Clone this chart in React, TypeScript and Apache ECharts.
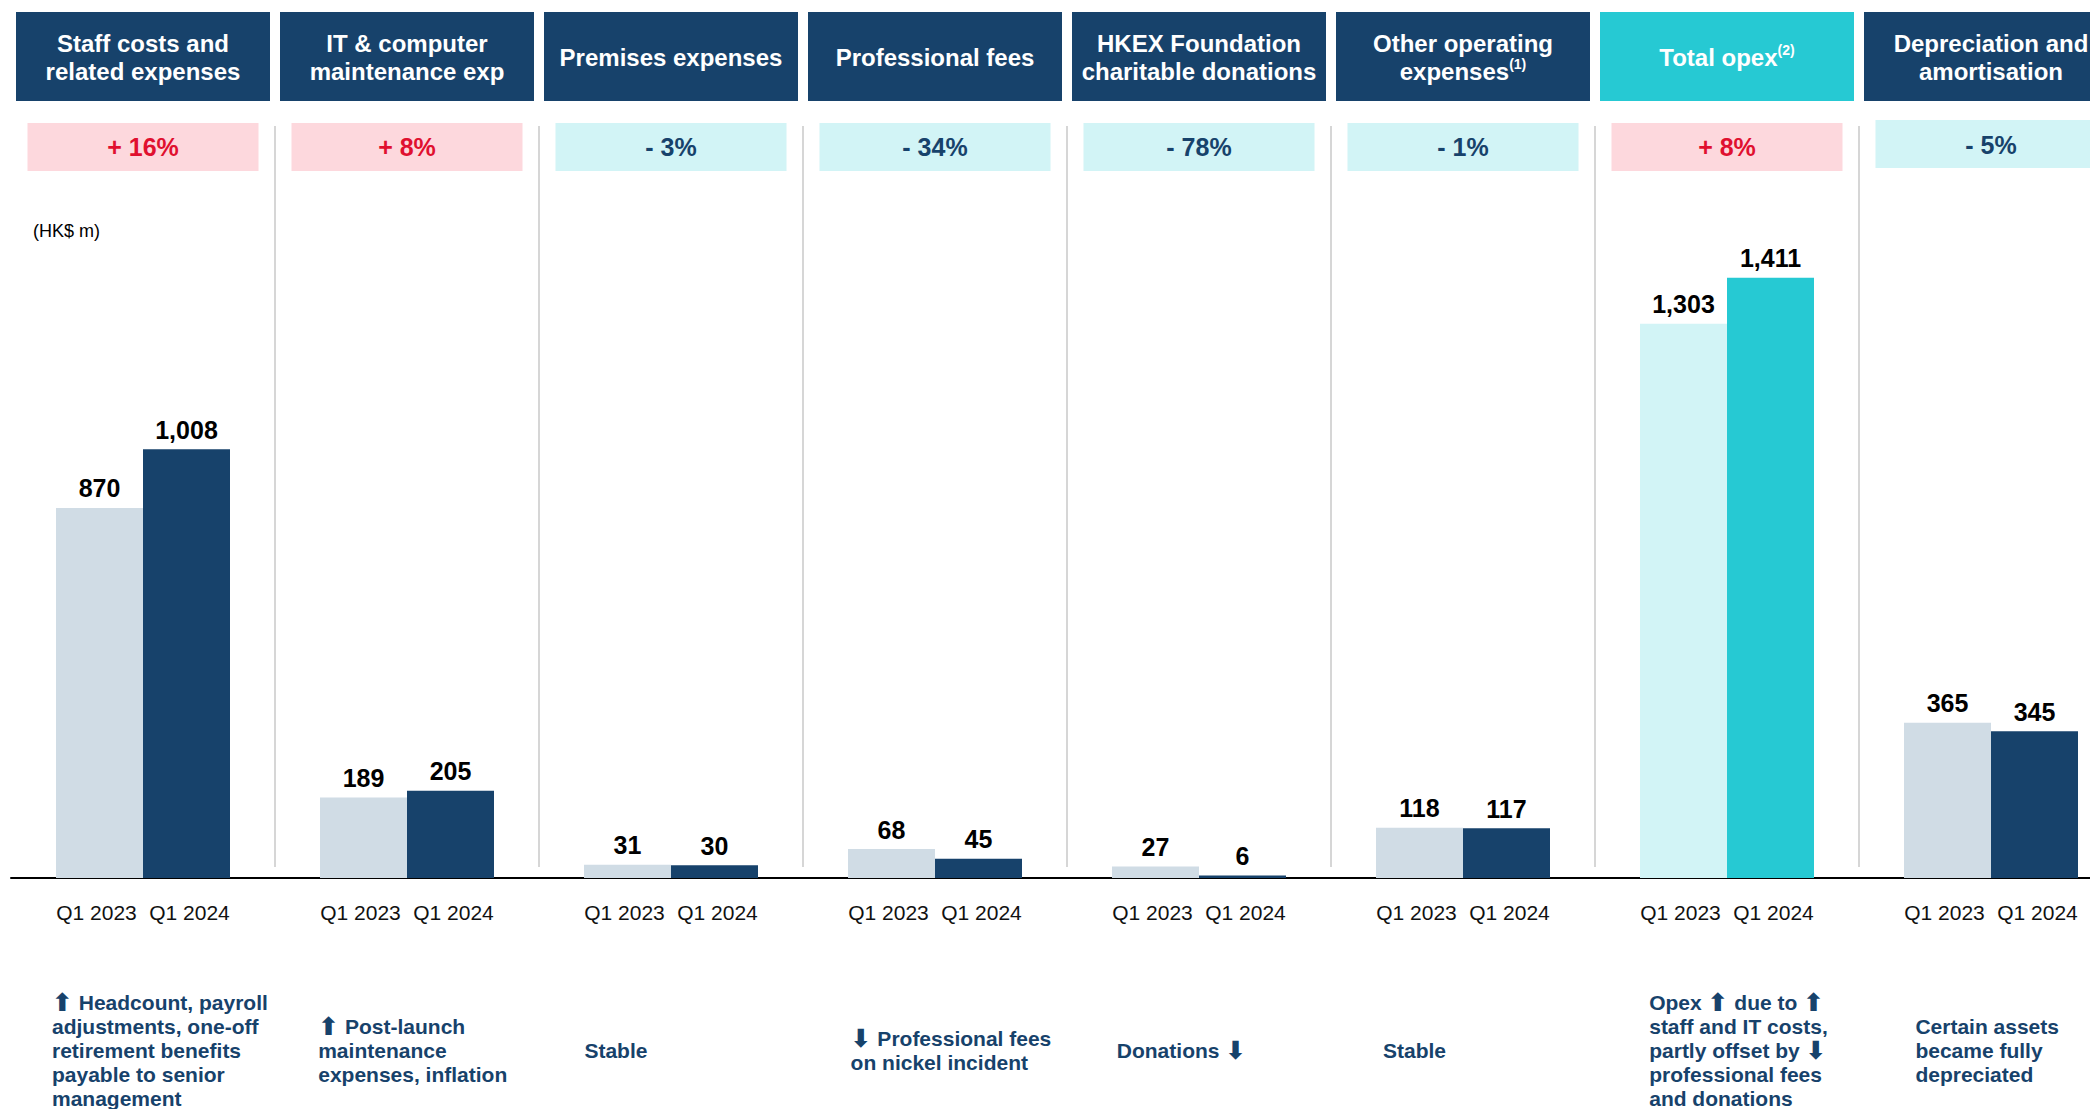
import React, { useEffect, useRef } from 'react';
import * as echarts from 'echarts';

// ---------- data ----------
const categories = [
  'Staff costs and related expenses',
  'IT & computer maintenance exp',
  'Premises expenses',
  'Professional fees',
  'HKEX Foundation charitable donations',
  'Other operating expenses',
  'Total opex',
  'Depreciation and amortisation',
];
const headerLines = [
  ['Staff costs and', 'related expenses'],
  ['IT & computer', 'maintenance exp'],
  ['Premises expenses'],
  ['Professional fees'],
  ['HKEX Foundation', 'charitable donations'],
  ['Other operating', 'expenses'],
  ['Total opex'],
  ['Depreciation and', 'amortisation'],
];
const headerSup = ['', '', '', '', '', '(1)', '(2)', ''];
const periods = ['Q1 2023', 'Q1 2024'];
const q1_2023 = [870, 189, 31, 68, 27, 118, 1303, 365];
const q1_2024 = [1008, 205, 30, 45, 6, 117, 1411, 345];
const changes = ['+ 16%', '+ 8%', '- 3%', '- 34%', '- 78%', '- 1%', '+ 8%', '- 5%'];
const notes = [
  '⬆ Headcount, payroll\nadjustments, one-off\nretirement benefits\npayable to senior\nmanagement',
  '⬆ Post-launch\nmaintenance\nexpenses, inflation',
  'Stable',
  '⬇ Professional fees\non nickel incident',
  'Donations ⬇',
  'Stable',
  'Opex ⬆ due to ⬆\nstaff and IT costs,\npartly offset by ⬇\nprofessional fees\nand donations',
  'Certain assets\nbecame fully\ndepreciated',
];
const unitLabel = '(HK$ m)';
const totalIndex = 6;

// ---------- styles ----------
const FONT = "'Liberation Sans', Arial, Helvetica, 'DejaVu Sans', sans-serif";
const NAVY = '#17426B';
const TEAL = '#26C9D3';
const LIGHT_TEAL = '#D2F4F6';
const LIGHT_GREY = '#D0DCE5';
const RED = '#E0102F';
const PINK = '#FDD8DD';

const PAGE_W = 2090;
const PAGE_H = 1109;
const CHART_W = 2150;

export default function App() {
  const ref = useRef<HTMLDivElement>(null);

  useEffect(() => {
    const chart = echarts.init(ref.current!, null, { renderer: 'svg' });
    const barW = 87;
    const axisY = 878;

    const barLabel = {
      show: true,
      position: 'top',
      distance: 7,
      fontFamily: FONT,
      fontSize: 25,
      fontWeight: 'bold',
      color: '#000',
      formatter: (p: any) => Number(p.value).toLocaleString('en-US'),
    };

    chart.setOption({
      animation: false,
      backgroundColor: '#fff',
      grid: { left: 11, top: axisY - 638, width: 2112, height: 638 },
      xAxis: {
        type: 'category',
        data: categories,
        axisLine: { lineStyle: { color: '#000', width: 2 } },
        axisTick: { show: false },
        axisLabel: {
          margin: 22,
          interval: 0,
          formatter: () => periods.map((p) => `{p|${p}}`).join(''),
          rich: {
            p: { width: barW + 6, align: 'center', fontSize: 21, fontFamily: FONT, color: '#111', lineHeight: 24 },
          },
        },
      },
      yAxis: { type: 'value', min: 0, max: 1500, show: false, splitLine: { show: false } },
      series: [
        {
          name: periods[0],
          type: 'bar',
          barWidth: barW,
          barGap: '0%',
          data: q1_2023.map((v, i) => ({
            value: v,
            itemStyle: { color: i === totalIndex ? LIGHT_TEAL : LIGHT_GREY },
          })),
          label: barLabel,
        },
        {
          name: periods[1],
          type: 'bar',
          barWidth: barW,
          barGap: '0%',
          data: q1_2024.map((v, i) => ({
            value: v,
            itemStyle: { color: i === totalIndex ? TEAL : NAVY },
          })),
          label: barLabel,
        },
      ],
    });

    const c0 = chart.convertToPixel({ xAxisIndex: 0 }, 0) as number;
    const c1 = chart.convertToPixel({ xAxisIndex: 0 }, 1) as number;
    const band = c1 - c0;

    const graphic: any[] = [];

    categories.forEach((_, i) => {
      const cx = chart.convertToPixel({ xAxisIndex: 0 }, i) as number;
      // header box
      graphic.push({
        type: 'rect',
        shape: { x: cx - 127, y: 12, width: 254, height: 89 },
        style: { fill: i === totalIndex ? TEAL : NAVY },
      });
      const lines = headerLines[i];
      const text = lines
        .map((l, k) => (k === lines.length - 1 && headerSup[i] ? `{h|${l}}{s|${headerSup[i]}}` : `{h|${l}}`))
        .join('\n');
      graphic.push({
        type: 'text',
        x: cx,
        y: 57,
        style: {
          text,
          align: 'center',
          verticalAlign: 'middle',
          rich: {
            h: { fontSize: 24, fontWeight: 'bold', fontFamily: FONT, fill: '#fff', lineHeight: 28 },
            s: { fontSize: 14, fontWeight: 'bold', fontFamily: FONT, fill: '#fff', lineHeight: 16, verticalAlign: 'top' },
          },
        },
      });
      // change box
      const pos = changes[i].startsWith('+');
      graphic.push({
        type: 'rect',
        shape: { x: cx - 115.5, y: i === categories.length - 1 ? 120 : 123, width: 231, height: 48 },
        style: { fill: pos ? PINK : LIGHT_TEAL },
      });
      graphic.push({
        type: 'text',
        x: cx,
        y: i === categories.length - 1 ? 145 : 147,
        style: {
          text: changes[i],
          align: 'center',
          verticalAlign: 'middle',
          fontSize: 25,
          fontWeight: 'bold',
          fontFamily: FONT,
          fill: pos ? RED : NAVY,
        },
      });
      // divider
      if (i > 0) {
        const bx = cx - band / 2;
        graphic.push({
          type: 'line',
          shape: { x1: bx, y1: 126, x2: bx, y2: 867 },
          style: { stroke: '#C8C8C8', lineWidth: 1.5 },
        });
      }
      // note (arrows drawn larger via a rich token)
      const noteText = notes[i]
        .split('\n')
        .map((ln) => ln.split(/([⬆⬇])/).filter((s) => s.length > 0).map((s) => (s === '⬆' || s === '⬇' ? `{a|${s}}` : `{t|${s}}`)).join(''))
        .join('\n');
      graphic.push({
        type: 'text',
        x: cx - barW - 4 + i * 2.2,
        y: 1050,
        style: {
          text: noteText,
          align: 'left',
          verticalAlign: 'middle',
          rich: {
            t: { fontSize: 21, fontWeight: 'bold', fontFamily: FONT, lineHeight: 24, fill: NAVY },
            a: { fontSize: 25, fontWeight: 'bold', fontFamily: "'DejaVu Sans', sans-serif", lineHeight: 24, fill: NAVY },
          },
        },
      });
    });

    graphic.push({
      type: 'text',
      x: 33,
      y: 231,
      style: {
        text: unitLabel,
        align: 'left',
        verticalAlign: 'middle',
        fontSize: 18,
        fontFamily: FONT,
        fill: '#000',
      },
    });

    chart.setOption({ graphic });

    return () => chart.dispose();
  }, []);

  return (
    <div
      style={{
        position: 'fixed',
        left: 0,
        top: 0,
        width: PAGE_W,
        height: PAGE_H,
        overflow: 'hidden',
        background: '#fff',
      }}
    >
      <div ref={ref} style={{ width: CHART_W, height: PAGE_H }} />
    </div>
  );
}
